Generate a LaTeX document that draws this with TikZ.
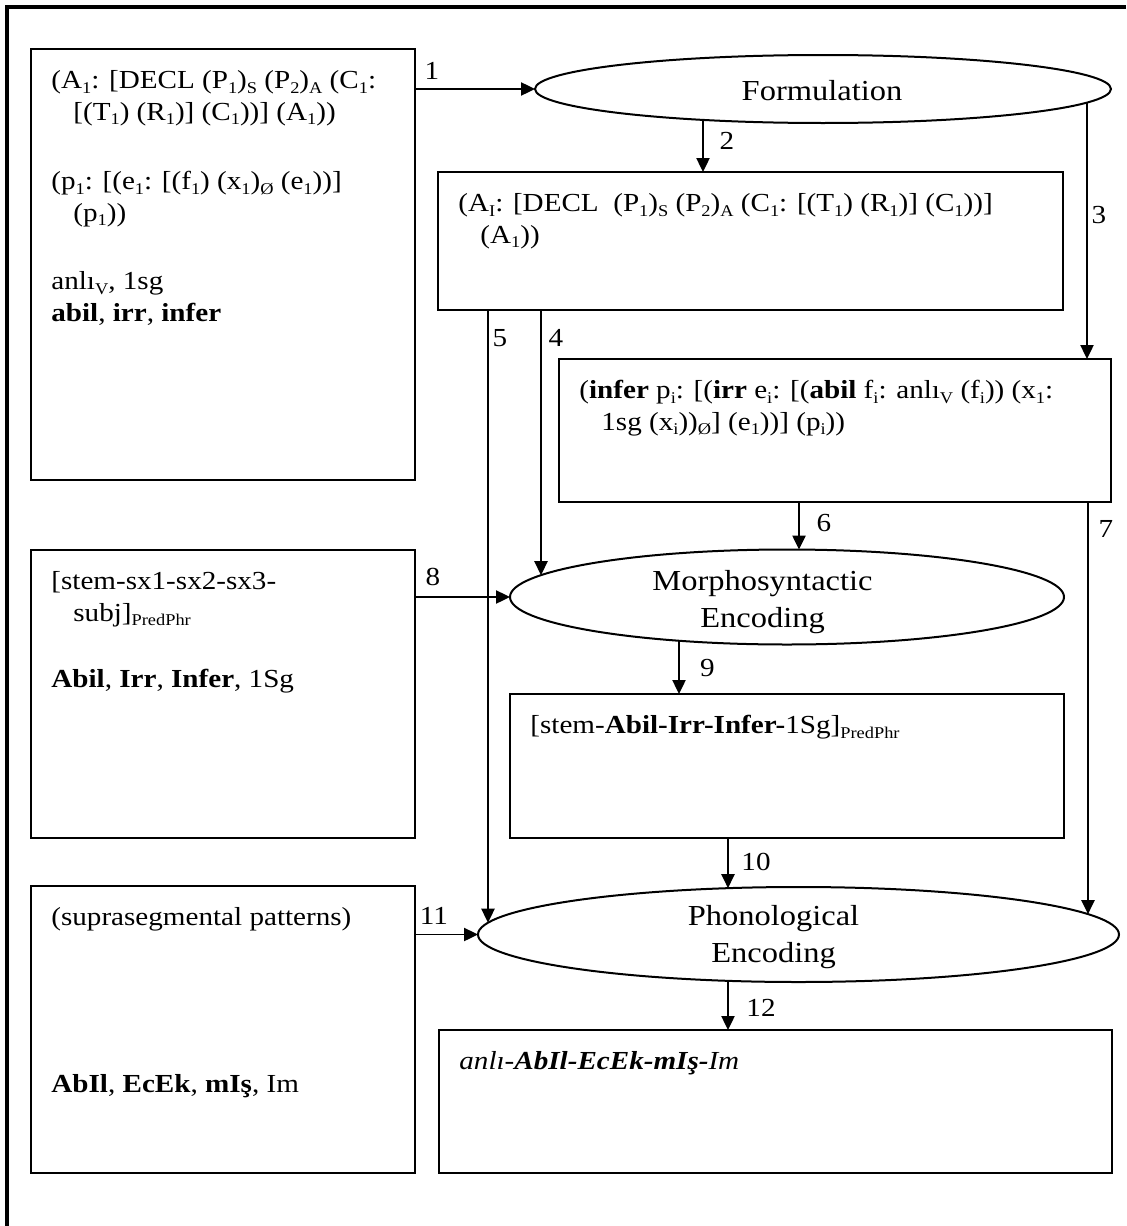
\documentclass[tikz,border=0pt]{standalone}
\usepackage{fontspec}
\setmainfont[FakeStretch=1.12]{Liberation Serif}
\usetikzlibrary{arrows.meta,shapes.geometric,fit,calc}
\newcommand{\lo}[1]{\raisebox{-2.4pt}{\fontsize{8.2}{8.2}\selectfont #1}}
\begin{document}
\begin{tikzpicture}[x=0.5pt,y=-0.5pt,
  box/.style={draw, line width=0.9pt, inner sep=0pt, outer sep=0pt},
  ell/.style={draw, ellipse, line width=1pt, inner sep=0pt, outer sep=0pt},
  txt/.style={anchor=north west, align=left, inner sep=0pt, font=\fontsize{13}{15.85}\selectfont},
  ctxt/.style={anchor=north, align=center, inner sep=0pt, font=\fontsize{14.5}{18.75}\selectfont},
  num/.style={inner sep=0pt, font=\fontsize{13}{15.85}\selectfont},
  arr/.style={line width=0.85pt, -{Triangle[length=7pt,width=6.6pt]}},
  frame/.style={line width=2pt}]
\useasboundingbox (0,0) rectangle (1126,1226);
% outer frame
\coordinate (ftl) at (5,7);
\coordinate (ftr) at (1126,7);
\coordinate (fbl) at (7,1226);
\draw[frame] (ftl) -- (ftr);
\draw[frame] (ftl -| fbl) -- (fbl);
% boxes
\node[box, fit={(31,49) (415,480)}] (boxA) {};
\node[box, fit={(438,172) (1063,310)}] (boxC) {};
\node[box, fit={(559,359) (1111,502)}] (boxD) {};
\node[box, fit={(31,550) (415,838)}] (boxB) {};
\node[box, fit={(510,694) (1064,838)}] (boxE) {};
\node[box, fit={(31,886) (415,1173)}] (boxF) {};
\node[box, fit={(439,1030) (1112,1173)}] (boxG) {};
% ellipses
\node[ell, minimum width=288pt, minimum height=34pt] (form) at (823,89) {};
\node[ell, minimum width=277pt, minimum height=47.5pt] (morph) at (787,597) {};
\node[ell, minimum width=320.5pt, minimum height=47.5pt] (phono) at (798.5,934.5) {};
\node[ctxt] (formT) at (822,73.5) {\strut Formulation};
\node[ctxt] (morphT) at (762.5,563.5) {\strut Morphosyntactic\\Encoding};
\node[ctxt] (phonoT) at (773.5,898.5) {\strut Phonological\\Encoding};
% points on the ellipse borders
\coordinate (f2) at ($(form.center)+(-120,30.9)$);
\coordinate (f3) at ($(form.center)+(264,13.6)$);
\coordinate (m4) at ($(morph.center)+(-246,-21.8)$);
\coordinate (m6) at ($(morph.center)+(12,-47.45)$);
\coordinate (m9) at ($(morph.center)+(-108,43.74)$);
\coordinate (p5) at ($(phono.center)+(-310.5,-11.77)$);
\coordinate (p7) at ($(phono.center)+(289.5,-20.38)$);
\coordinate (p10) at ($(phono.center)+(-70.5,-46.34)$);
\coordinate (p12) at ($(phono.center)+(-70.5,46.34)$);
% box texts
\node[txt] (tA) at (51,65.8) {\strut(A\lo{1}: [DECL (P\lo{1})\lo{S} (P\lo{2})\lo{A} (C\lo{1}:\\
\hspace*{11pt}[(T\lo{1}) (R\lo{1})] (C\lo{1}))] (A\lo{1}))\\[18.8pt]
(p\lo{1}: [(e\lo{1}: [(f\lo{1}) (x\lo{1})\lo{Ø} (e\lo{1}))]\\
\hspace*{11pt}(p\lo{1}))\\[18.3pt]
anlı\lo{V}, 1sg\\
\textbf{abil}, \textbf{irr}, \textbf{infer}};
\node[txt] (tC) at (458,188.8) {\strut(A\lo{I}: [DECL\ \ (P\lo{1})\lo{S} (P\lo{2})\lo{A} (C\lo{1}: [(T\lo{1}) (R\lo{1})] (C\lo{1}))]\\
\hspace*{11pt}(A\lo{1}))};
\node[txt] (tD) at (579,375.8) {\strut(\textbf{infer} p\lo{i}: [(\textbf{irr} e\lo{i}: [(\textbf{abil} f\lo{i}: anlı\lo{V} (f\lo{i})) (x\lo{1}:\\
\hspace*{11pt}1sg (x\lo{i}))\lo{Ø}] (e\lo{1}))] (p\lo{i}))};
\node[txt] (tB) at (51,566.8) {\strut[stem-sx1-sx2-sx3-\\
\hspace*{11pt}subj]\lo{PredPhr}\\[17.5pt]
\textbf{Abil}, \textbf{Irr}, \textbf{Infer}, 1Sg};
\node[txt] (tE) at (530,710.8) {\strut[stem-\textbf{Abil-Irr-Infer-}1Sg]\lo{PredPhr}};
\node[txt] (tF) at (51,902.8) {\strut(suprasegmental patterns)\\[67.6pt]
\textbf{AbIl}, \textbf{EcEk}, \textbf{mIş}, Im};
\node[txt] (tG) at (459,1046.8) {\strut\textit{anlı-\textbf{AbIl-EcEk-mIş-}Im}};
% connectors
\draw[arr] (boxA.east |- form.west) -- (form.west);
\draw[arr] (f2) -- (f2 |- boxC.north);
\draw[arr] (f3) -- (f3 |- boxD.north);
\draw[arr] (boxC.south -| m4) -- (m4);
\draw[arr] (boxC.south -| p5) -- (p5);
\draw[arr] (boxD.south -| m6) -- (m6);
\draw[arr] (boxD.south -| p7) -- (p7);
\draw[arr] (boxB.east |- morph.west) -- (morph.west);
\draw[arr] (m9) -- (m9 |- boxE.north);
\draw[arr] (boxE.south -| p10) -- (p10);
\draw[arr] (boxF.east |- phono.west) -- (phono.west);
\draw[arr] (p12) -- (p12 |- boxG.north);
% labels
\node[num] (n1) at (432,71) {1};
\node[num] (n2) at (727,141) {2};
\node[num] (n3) at (1099,215) {3};
\node[num] (n4) at (556,338) {4};
\node[num] (n5) at (500,338) {5};
\node[num] (n6) at (824,523) {6};
\node[num] (n7) at (1106,529) {7};
\node[num] (n8) at (433,577) {8};
\node[num] (n9) at (707.5,668) {9};
\node[num] (n10) at (756,862) {10};
\node[num] (n11) at (434,916) {11};
\node[num] (n12) at (761,1008) {12};
\end{tikzpicture}
\end{document}
